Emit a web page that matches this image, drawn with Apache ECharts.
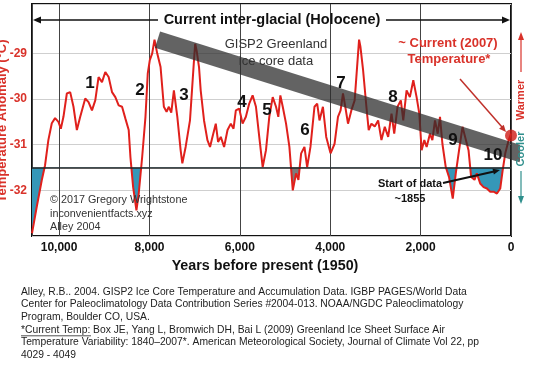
<!DOCTYPE html>
<html><head><meta charset="utf-8">
<script src="https://cdn.jsdelivr.net/npm/echarts@6/dist/echarts.min.js"></script>
<style>html,body{margin:0;padding:0;background:#fff}#c{width:540px;height:365px}</style>
</head><body><div id="c"></div>
<script>
// Years before present (1950) and GISP2 temperature (°C)
const years = [10600,10495,10384,10311,10238,10162,10089,10015,9962,9904,9829,9755,9682,9607,9533,9422,9349,9273,9200,9127,9051,8978,8904,8829,8756,8682,8607,8533,8460,8422,8362,8289,8238,8162,8089,8038,7993,7940,7889,7829,7755,7682,7622,7571,7518,7460,7384,7311,7273,7200,7104,7015,6989,6955,6904,6867,6793,6718,6660,6607,6533,6482,6422,6349,6273,6200,6140,6089,6015,5940,5867,5793,5718,5644,5571,5495,5422,5349,5273,5200,5149,5104,5051,4978,4904,4829,4756,4704,4644,4571,4511,4438,4349,4289,4238,4162,4089,3993,3904,3829,3771,3718,3667,3607,3533,3460,3384,3362,3333,3273,3200,3149,3089,3015,2940,2867,2793,2718,2644,2584,2511,2438,2384,2311,2238,2162,2089,2029,1978,1918,1867,1793,1740,1682,1622,1571,1518,1444,1371,1289,1222,1149,1073,1015,940,882,807,756,682,607,533,460,384,311,238,184,127,51,0];
const temps = [-32.94,-32.36,-31.78,-31.45,-30.9,-30.53,-30.42,-30.5,-30.65,-30.39,-29.88,-29.85,-30.17,-30.68,-30.39,-29.99,-30.07,-30.25,-30.03,-29.52,-29.63,-29.41,-29.52,-29.85,-29.96,-30.14,-30.17,-30.43,-30.68,-31.27,-31.93,-32.44,-32.07,-31.27,-30.39,-29.44,-29.15,-29.0,-28.7,-29.0,-29.3,-30.17,-30.28,-30.17,-30.3,-29.81,-30.39,-31.12,-31.41,-31.05,-30.47,-29.15,-28.79,-28.95,-29.3,-29.81,-30.47,-30.9,-31.05,-30.83,-30.54,-30.94,-30.83,-31.05,-30.68,-30.54,-30.65,-30.25,-30.21,-30.54,-30.39,-30.1,-29.92,-30.17,-30.83,-31.49,-31.12,-30.39,-29.96,-30.17,-30.39,-29.92,-30.17,-30.54,-31.05,-32.0,-31.63,-31.77,-31.19,-31.05,-31.49,-31.05,-30.17,-30.1,-30.47,-30.17,-30.83,-31.19,-30.98,-30.39,-30.25,-29.88,-30.17,-30.54,-30.25,-30.03,-29.0,-28.7,-28.85,-29.37,-30.17,-30.68,-30.54,-30.6,-30.47,-30.9,-30.61,-30.83,-30.32,-30.76,-30.17,-30.03,-30.47,-29.81,-29.96,-29.59,-29.96,-30.32,-31.12,-30.9,-31.05,-30.76,-30.9,-30.47,-30.76,-30.39,-30.98,-31.49,-31.71,-32.18,-31.63,-31.12,-30.61,-30.83,-31.12,-31.71,-31.77,-31.63,-31.85,-31.93,-31.96,-32.03,-32.03,-32.07,-31.96,-31.56,-31.19,-30.9,-30.76];
// Trend band (GISP2 greenland ice core trend), endpoints
const trendYears = [7822, -244];
const trendTemps = [-28.70, -31.21];
// current (2007) temperature point
const currentYear = [0];
const currentTemp = [-30.8];
// threshold line
const threshold = -31.5;
// gray-filled sub-range (event 6)
const grayStart = 84, grayEnd = 92;
const yTickLabels = [-32, -31, -30, -29];

const zip = (a, b) => a.map((v, i) => [v, b[i]]);
const lineData = zip(years, temps);

const chart = echarts.init(document.getElementById('c'), null, {renderer: 'canvas'});
const FONT = '"Liberation Sans", Arial, sans-serif';
const RED = '#d9322a';

const txt = (x, y, text, o) => Object.assign({
  type: 'text', x: x, y: y, z: 100,
  style: Object.assign({text: text, font: 'bold 12px ' + FONT, fill: '#111', align: 'center', verticalAlign: 'middle'}, o || {})
});
const ln = (x1, y1, x2, y2, color, w) => ({type: 'line', z: 100, shape: {x1, y1, x2, y2}, style: {stroke: color, lineWidth: w}});
const tri = (pts, color) => ({type: 'polygon', z: 100, shape: {points: pts}, style: {fill: color}});

const labels = [['1',90,83],['2',140,90],['3',184,95],['4',242,102],['5',267,110],['6',305,130],['7',341,83],['8',393,97],['9',453,140],['10',493,155]];

const graphic = [];
labels.forEach(l => graphic.push(txt(l[1], l[2], l[0], {font: 'bold 17px ' + FONT})));
const cite = {font: '10.3px ' + FONT, fill: '#222', align: 'left'};
const copy = {font: '10.8px ' + FONT, fill: '#333', align: 'left'};
graphic.push(
  txt(272, 20, 'Current inter-glacial (Holocene)', {font: 'bold 14.5px ' + FONT}),
  ln(38, 20, 158, 20, '#111', 1.3), tri([[33,20],[41,16.5],[41,23.5]], '#111'),
  ln(386, 20, 504, 20, '#111', 1.3), tri([[510,20],[502,16.5],[502,23.5]], '#111'),
  txt(276, 44, 'GISP2 Greenland', {font: '13px ' + FONT, fill: '#333'}),
  txt(276, 61, 'ice core data', {font: '13px ' + FONT, fill: '#333'}),
  txt(448, 43, '~ Current (2007)', {font: 'bold 13px ' + FONT, fill: RED}),
  txt(449, 59, 'Temperature*', {font: 'bold 13px ' + FONT, fill: RED}),
  ln(460, 79, 502, 127, '#c0302a', 1.5), tri([[506,132],[499.1,128.7],[503.7,124.7]], '#c0302a'),
  txt(410, 184, 'Start of data', {font: 'bold 11px ' + FONT}),
  txt(410, 199, '~1855', {font: 'bold 11px ' + FONT}),
  ln(443, 183, 494, 171.5, '#111', 2), tri([[500,170],[493.9,174.5],[492.5,168.7]], '#111'),
  txt(50, 200, '© 2017 Gregory Wrightstone', copy),
  txt(50, 214, 'inconvenientfacts.xyz', copy),
  txt(50, 227, 'Alley 2004', copy),
  Object.assign(txt(2, 121, 'Temperature Anomaly (°C)', {font: 'bold 13px ' + FONT, fill: RED}), {rotation: Math.PI / 2}),
  // Warmer / Cooler
  Object.assign(txt(521, 100, 'Warmer', {font: 'bold 11px ' + FONT, fill: RED}), {rotation: Math.PI / 2}),
  ln(521, 72, 521, 38, RED, 1.2), tri([[521,32],[518,40],[524,40]], RED),
  Object.assign(txt(521, 149, 'Cooler', {font: 'bold 11px ' + FONT, fill: '#2f8f8c'}), {rotation: Math.PI / 2}),
  ln(521, 171, 521, 198, '#2f8f8c', 1.2), tri([[521,204],[518,196],[524,196]], '#2f8f8c'),
  txt(265, 266, 'Years before present (1950)', {font: 'bold 14.3px ' + FONT}),
  txt(21, 292, 'Alley, R.B.. 2004. GISP2 Ice Core Temperature and Accumulation Data. IGBP PAGES/World Data', cite),
  txt(21, 304.5, 'Center for Paleoclimatology Data Contribution Series #2004-013. NOAA/NGDC Paleoclimatology', cite),
  txt(21, 317, 'Program, Boulder CO, USA.', cite),
  txt(21, 330, '*Current Temp: Box JE, Yang L, Bromwich DH, Bai L (2009) Greenland Ice Sheet Surface Air', cite),
  ln(21, 335.8, 91, 335.8, '#222', 0.8),
  txt(21, 342.5, 'Temperature Variability: 1840–2007*. American Meteorological Society, Journal of Climate Vol 22, pp', cite),
  txt(21, 355, '4029 - 4049', cite)
);

const option = {
  animation: false,
  backgroundColor: '#fff',
  grid: {left: 32, right: 29, top: 4, bottom: 129, show: true, borderColor: '#111', borderWidth: 2, backgroundColor: 'transparent'},
  xAxis: {
    type: 'value', inverse: true, min: 0, max: 10600, interval: 2000,
    axisLine: {show: false}, axisTick: {show: false},
    axisLabel: {margin: 6, fontSize: 12, fontWeight: 'bold', color: '#111', fontFamily: FONT,
      formatter: v => v >= 1000 ? (v / 1000) + ',000' : String(v), showMaxLabel: false},
    splitLine: {show: true, lineStyle: {color: '#444', width: 1}}
  },
  yAxis: {
    type: 'value', min: -33, max: -27.92, interval: 1,
    axisLine: {show: false}, axisTick: {show: false},
    axisLabel: {margin: 5, fontSize: 12, fontWeight: 'bold', color: RED, fontFamily: FONT,
      formatter: v => yTickLabels.indexOf(v) >= 0 ? String(v) : ''},
    splitLine: {show: true, lineStyle: {color: ['#cfcfcf','#cfcfcf','#cfcfcf','#cfcfcf','#cfcfcf','rgba(0,0,0,0)'], width: 1}}
  },
  visualMap: [
    {show: false, type: 'piecewise', seriesIndex: 0, dimension: 1,
     pieces: [{gt: -40, lt: threshold, color: '#3597b8'}, {gte: threshold, lt: -20, color: 'rgba(255,255,255,0)'}],
     outOfRange: {color: 'rgba(255,255,255,0)'}},
    {show: false, type: 'piecewise', seriesIndex: 1, dimension: 1,
     pieces: [{gt: -40, lt: threshold, color: '#7c7c7c'}, {gte: threshold, lt: -20, color: 'rgba(255,255,255,0)'}],
     outOfRange: {color: 'rgba(255,255,255,0)'}}
  ],
  series: [
    {type: 'line', data: lineData, showSymbol: false, silent: true, z: 1,
     lineStyle: {width: 0, opacity: 0}, areaStyle: {origin: threshold, opacity: 1}},
    {type: 'line', data: lineData.slice(grayStart, grayEnd), showSymbol: false, silent: true, z: 2,
     lineStyle: {width: 0, opacity: 0}, areaStyle: {origin: threshold, opacity: 1}},
    {type: 'line', data: lineData, showSymbol: false, z: 3,
     lineStyle: {color: '#e0201c', width: 2},
     markLine: {silent: true, symbol: 'none', label: {show: false},
       lineStyle: {color: '#222', width: 1.5, type: 'solid'}, data: [{yAxis: threshold}]}},
    {type: 'line', data: zip(trendYears, trendTemps), showSymbol: false, clip: false, z: 4,
     lineStyle: {color: 'rgba(45,45,45,0.74)', width: 17, cap: 'butt'}},
    {type: 'scatter', data: zip(currentYear, currentTemp), symbolSize: 12, clip: false, z: 5,
     itemStyle: {color: '#d01c16'}}
  ],
  graphic: graphic
};
chart.setOption(option);
</script></body></html>
